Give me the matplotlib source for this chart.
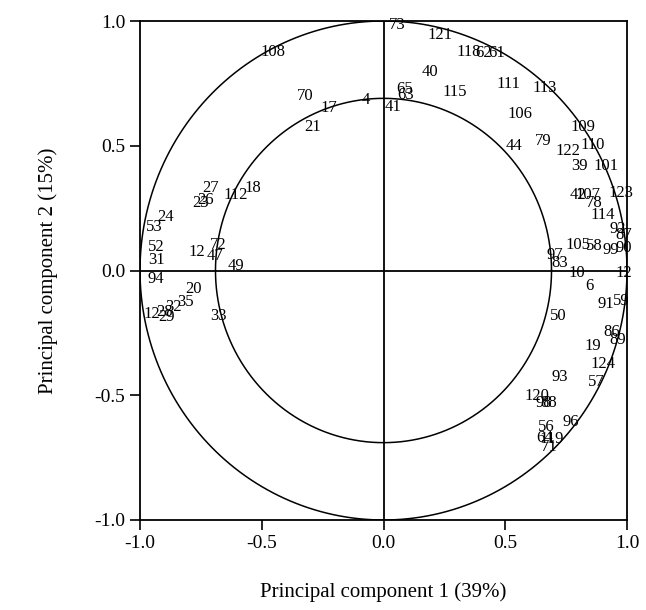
import matplotlib
matplotlib.use("Agg")
import matplotlib.pyplot as plt
import numpy as np

# sample loadings on the first two principal components
labels = ["73", "121", "118", "62", "61", "40", "65", "63", "41", "115",
          "111", "113", "106", "109", "79", "44", "122", "110", "39", "101",
          "108", "70", "17", "4", "21", "27", "23", "26", "112", "18",
          "24", "53", "52", "31", "12", "72", "47", "49", "94", "20",
          "35", "32", "28", "29", "12", "33", "42", "107", "123", "78",
          "114", "92", "87", "105", "58", "99", "90", "97", "83", "10",
          "12", "6", "91", "59", "50", "86", "89", "19", "124", "57",
          "93", "120", "98", "88", "96", "56", "64", "119", "71"]
pc1 = [0.057, 0.233, 0.351, 0.412, 0.465, 0.192, 0.086, 0.090, 0.037, 0.294,
       0.514, 0.661, 0.559, 0.820, 0.657, 0.535, 0.759, 0.861, 0.804, 0.914,
       -0.453, -0.322, -0.224, -0.073, -0.290, -0.710, -0.751, -0.731, -0.608, -0.535,
       -0.894, -0.943, -0.935, -0.931, -0.767, -0.678, -0.690, -0.604, -0.935, -0.780,
       -0.812, -0.861, -0.898, -0.890, -0.951, -0.678, 0.800, 0.841, 0.976, 0.865,
       0.902, 0.963, 0.988, 0.800, 0.865, 0.935, 0.985, 0.702, 0.722, 0.792,
       0.985, 0.845, 0.914, 0.976, 0.718, 0.939, 0.963, 0.861, 0.902, 0.873,
       0.722, 0.629, 0.657, 0.678, 0.771, 0.669, 0.661, 0.690, 0.682]
pc2 = [0.984, 0.944, 0.876, 0.872, 0.872, 0.796, 0.728, 0.704, 0.656, 0.716,
       0.748, 0.732, 0.628, 0.576, 0.520, 0.500, 0.480, 0.504, 0.420, 0.420,
       0.876, 0.700, 0.652, 0.684, 0.576, 0.332, 0.272, 0.284, 0.304, 0.332,
       0.216, 0.176, 0.096, 0.044, 0.076, 0.104, 0.060, 0.020, -0.036, -0.076,
       -0.128, -0.148, -0.168, -0.188, -0.176, -0.184, 0.304, 0.304, 0.312, 0.272,
       0.224, 0.168, 0.144, 0.104, 0.100, 0.084, 0.092, 0.064, 0.032, -0.012,
       -0.012, -0.064, -0.136, -0.124, -0.184, -0.248, -0.280, -0.304, -0.376, -0.448,
       -0.428, -0.504, -0.532, -0.532, -0.608, -0.628, -0.672, -0.676, -0.708]

outer_r = 1.0
inner_r = 0.69
ticks = [-1.0, -0.5, 0.0, 0.5, 1.0]

plt.rcParams['font.family'] = ['Liberation Serif', 'DejaVu Serif']
plt.rcParams['axes.unicode_minus'] = False

fig = plt.figure(figsize=(6.46, 6.10), dpi=100)
ax = fig.add_axes([140/646, 90/610, 487/646, 499/610])

theta = np.linspace(0, 2*np.pi, 721)
for r in (outer_r, inner_r):
	ax.plot(r*np.cos(theta), r*np.sin(theta), color='black', lw=1.1)
ax.axhline(0, color='black', lw=1.3)
ax.axvline(0, color='black', lw=1.3)

for lab, x, y in zip(labels, pc1, pc2):
	ax.text(x, y, lab, fontsize=12, ha='center', va='center', color='black')

ax.set_xlim(-1, 1)
ax.set_ylim(-1, 1)
ax.set_xticks(ticks)
ax.set_yticks(ticks)
ax.set_xticklabels(["%.1f" % t for t in ticks])
ax.set_yticklabels(["%.1f" % t for t in ticks])
ax.tick_params(direction='out', length=7, width=1.2, labelsize=14, top=False, right=False)
for s in ax.spines.values():
	s.set_linewidth(1.3)

ax.set_xlabel("Principal component 1 (39%)", fontsize=15, labelpad=22)
ax.set_ylabel("Principal component 2 (15%)", fontsize=15, labelpad=26)

fig.savefig("out.png", dpi=100)
